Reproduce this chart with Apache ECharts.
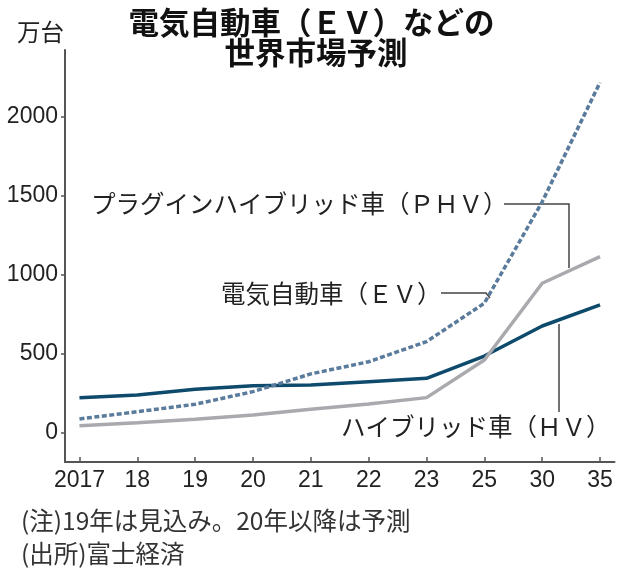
<!DOCTYPE html>
<html>
<head>
<meta charset="utf-8">
<script src="https://cdn.jsdelivr.net/npm/echarts@6/dist/echarts.min.js"></script>
<style>
html,body{margin:0;padding:0;background:#fff;}
#chart{width:630px;height:579px;}
</style>
</head>
<body>
<div id="chart"></div>
<script>
// 年（横軸）
let years = ['2017', '18', '19', '20', '21', '22', '23', '25', '30', '35'];
// 万台
let hv_data = [222, 239, 275, 297, 302, 323, 344, 485, 675, 808];
let ev_data = [87, 133, 180, 260, 372, 449, 576, 819, 1460, 2215];
let phv_data = [44, 63, 85, 112, 148, 182, 222, 460, 945, 1114];
let y_ticks = [0, 500, 1000, 1500, 2000];

let jp_font = '"Noto Sans CJK JP", sans-serif';
let num_font = '"Liberation Sans", Arial, sans-serif';

function to_points(values){
    let pts = [];
    for(let i = 0; i < values.length; i++){
        pts.push([i, values[i]]);
    }
    return pts;
}

function main_chart(){
    let myChart = echarts.init(document.getElementById('chart'));
    let x_index = years.map(function(d, i){ return i; });

    let option = {
        backgroundColor: '#fff',
        animation: false,
        grid: {left: 65, right: 15.5, top: 50, bottom: 117, containLabel: false, outerBoundsMode: 'none'},
        xAxis: {
            type: 'value',
            min: -0.25,
            max: 9.25,
            splitLine: {show: false},
            axisLine: {onZero: false, lineStyle: {color: '#555', width: 2}},
            axisTick: {show: true, inside: true, length: 5, customValues: x_index, lineStyle: {color: '#555', width: 1.5}},
            axisLabel: {
                customValues: x_index,
                margin: 7,
                color: '#222',
                fontSize: 23,
                fontFamily: num_font,
                formatter: function(v){ return years[Math.round(v)]; }
            }
        },
        yAxis: {
            type: 'value',
            min: -185,
            max: 2420,
            splitLine: {show: false},
            axisLine: {show: true, onZero: false, lineStyle: {color: '#555', width: 2}},
            axisTick: {show: true, length: 4, customValues: y_ticks, lineStyle: {color: '#555', width: 1.5}},
            axisLabel: {
                customValues: y_ticks,
                margin: 7,
                color: '#222',
                fontSize: 23,
                fontFamily: num_font,
                formatter: function(v){ return String(v); }
            }
        },
        series: [
            {
                name: 'ハイブリッド車（ＨＶ）',
                type: 'line',
                data: to_points(hv_data),
                showSymbol: false,
                lineStyle: {color: '#0e4a6c', width: 3.5}
            },
            {
                name: 'プラグインハイブリッド車（ＰＨＶ）',
                type: 'line',
                data: to_points(phv_data),
                showSymbol: false,
                lineStyle: {color: '#a9a9ae', width: 3.5}
            },
            {
                name: '電気自動車（ＥＶ）',
                type: 'line',
                data: to_points(ev_data),
                showSymbol: false,
                lineStyle: {color: '#5a7b9b', width: 3.5, type: [5, 2.5]}
            }
        ],
        graphic: [
            // タイトル
            {type: 'text', x: 311.5, y: 22, style: {text: '電気自動車（ＥＶ）などの', font: 'bold 30.5px ' + jp_font, fill: '#111', textAlign: 'center', textVerticalAlign: 'middle'}},
            {type: 'text', x: 316, y: 52, style: {text: '世界市場予測', font: 'bold 30.5px ' + jp_font, fill: '#111', textAlign: 'center', textVerticalAlign: 'middle'}},
            // 単位
            {type: 'text', x: 40.5, y: 32, style: {text: '万台', font: '23.5px ' + jp_font, fill: '#222', textAlign: 'center', textVerticalAlign: 'middle'}},
            // 系列ラベルと引き出し線
            {type: 'text', x: 91, y: 204, style: {text: 'プラグインハイブリッド車（ＰＨＶ）', font: '24.5px ' + jp_font, fill: '#222', textVerticalAlign: 'middle'}},
            {type: 'polyline', shape: {points: [[504, 204], [569, 204], [569, 268]]}, style: {stroke: '#444', lineWidth: 1.5, fill: null}},
            {type: 'text', x: 221, y: 294, style: {text: '電気自動車（ＥＶ）', font: '24.5px ' + jp_font, fill: '#222', textVerticalAlign: 'middle'}},
            {type: 'polyline', shape: {points: [[441, 293], [486, 293], [490, 298]]}, style: {stroke: '#444', lineWidth: 1.5, fill: null}},
            {type: 'text', x: 341, y: 427, style: {text: 'ハイブリッド車（ＨＶ）', font: '24.5px ' + jp_font, fill: '#222', textVerticalAlign: 'middle'}},
            {type: 'line', shape: {x1: 559, y1: 324, x2: 559, y2: 412}, style: {stroke: '#444', lineWidth: 1.5}},
            // 注記
            {type: 'text', x: 21, y: 521, style: {text: '(注)19年は見込み。20年以降は予測', font: '24.5px ' + jp_font, fill: '#333', textVerticalAlign: 'middle'}},
            {type: 'text', x: 21, y: 554, style: {text: '(出所)富士経済', font: '24.5px ' + jp_font, fill: '#333', textVerticalAlign: 'middle'}}
        ]
    };
    myChart.clear();
    myChart.setOption(option);
    window.onresize = function(){
        myChart.resize();
    }
}

main_chart();
</script>
</body>
</html>
